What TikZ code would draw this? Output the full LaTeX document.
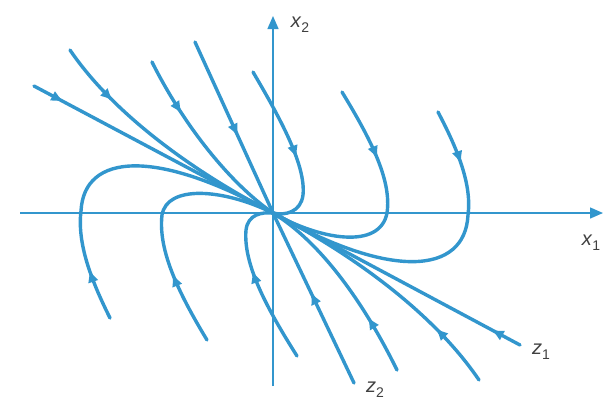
\documentclass[tikz,border=0pt]{standalone}
\usepackage{fontspec}
\setmainfont{Liberation Sans}
\usetikzlibrary{arrows.meta,decorations.markings}
\definecolor{trajc}{RGB}{50,150,205}
\newcommand\varlab[2]{\textit{#1}\raisebox{-0.45ex}{\fontsize{14}{16}\selectfont #2}}
\begin{document}
\begin{tikzpicture}[x=1pt,y=-1pt,
  traj/.style={draw=trajc, line width=3.4pt, line cap=round},
  axis/.style={draw=trajc, line width=1.4pt, -{Triangle[length=13pt,width=11pt]}},
  arr/.style={postaction={decorate,decoration={markings,
      mark=at position #1 with {\arrow{Latex[length=13pt,width=11pt]}}}}},
  lab/.style={font=\fontsize{20}{24}\selectfont, inner sep=0pt, text=black!75}]
\useasboundingbox (0,0) rectangle (614,416);
\fill[white] (0,0) rectangle (614,416);
\coordinate (O) at (273,213);
% axes
\coordinate (xs) at (20,213);
\coordinate (xe) at (603,213);
\coordinate (ys) at (273,386);
\coordinate (ye) at (273,16);
\draw[axis] (xs) -- (xe);
\draw[axis] (ys) -- (ye);
\node[lab] (x1) at (591,243) {\varlab{x}{1}};
\node[lab] (x2) at (300,25) {\varlab{x}{2}};
\node[lab] (z1) at (541,352) {\varlab{z}{1}};
\node[lab] (z2) at (375,390) {\varlab{z}{2}};
% eigen lines
\draw[traj, arr=34pt] (34,86) -- (O);
\draw[traj, arr=33pt] (520,345) -- (O);
\draw[traj, arr=104pt] (195,42) -- (O);
\draw[traj, arr=101pt] (354,383) -- (O);
% upper trajectories
\draw[traj, arr=67pt] (70,50) .. controls (112,112) and (190,170) .. (O);
\draw[traj, arr=60pt] (152,62) .. controls (182,122) and (228,182) .. (O);
\draw[traj, arr=97pt] (253,72) .. controls (280,118) and (306,165) .. (303,195)
      .. controls (301,212) and (285,216) .. (O);
\draw[traj, arr=76pt] (342,92) .. controls (370,138) and (392,180) .. (387,213)
      .. controls (380,250) and (320,240) .. (O);
\draw[traj, arr=57pt] (438,112) .. controls (458,150) and (472,185) .. (468,215)
      .. controls (465,275) and (390,280) .. (O);
% lower trajectories
\draw[traj, arr=53pt] (110,318) .. controls (91,280) and (77,243) .. (81,211)
      .. controls (84,153) and (156,148) .. (O);
\draw[traj, arr=75pt] (207,340) .. controls (178,292) and (158,250) .. (162,215)
      .. controls (167,185) and (222,188) .. (O);
\draw[traj, arr=97pt] (297,356) .. controls (268,310) and (243,265) .. (246,230)
      .. controls (248,214) and (262,212) .. (O);
\draw[traj, arr=61pt] (397,370) .. controls (365,305) and (322,243) .. (O);
\draw[traj, arr=68pt] (479,380) .. controls (435,315) and (356,256) .. (O);
\end{tikzpicture}
\end{document}
